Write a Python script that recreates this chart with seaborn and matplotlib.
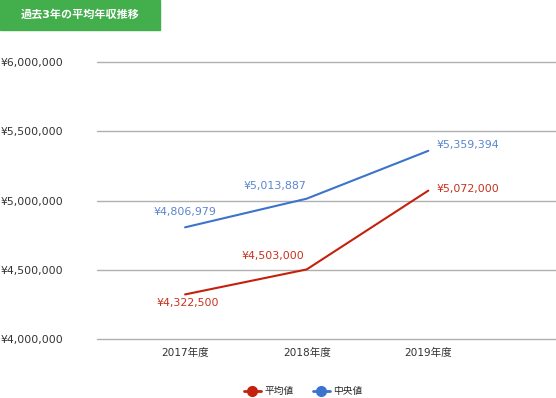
import pandas as pd
import matplotlib
matplotlib.use("Agg")
import matplotlib.pyplot as plt
import seaborn as sns
from matplotlib.patches import Rectangle
from matplotlib.ticker import FuncFormatter

years = ["2017年度", "2018年度", "2019年度"]
mean_vals = [4322500, 4503000, 5072000]
median_vals = [4806979, 5013887, 5359394]
series = ["平均値", "中央値"]
colors = {"平均値": "#c4200c", "中央値": "#3c73cc"}
label_colors = {"平均値": "#c8321e", "中央値": "#5b86cf"}
title = "過去3年の平均年収推移"

df = pd.DataFrame({
    "year": years * 2,
    "x": [0, 1, 2] * 2,
    "value": mean_vals + median_vals,
    "series": [series[0]] * 3 + [series[1]] * 3,
})

sns.set_style("white")
plt.rcParams["font.family"] = ["DejaVu Sans", "Noto Sans CJK JP"]

fig = plt.figure(figsize=(5.56, 3.98), dpi=100)
ax = fig.add_axes([0.1745, 0.148, 0.8255, 0.696])

sns.lineplot(data=df, x="x", y="value", hue="series", hue_order=series,
             palette=colors, linewidth=1.5, ax=ax, legend=False)

ax.set_ylim(4000000, 6000000)
ax.set_xlim(-0.724, 3.05)
ax.set_yticks([4000000, 4500000, 5000000, 5500000, 6000000])
ax.yaxis.set_major_formatter(FuncFormatter(lambda v, p: "¥{:,.0f}".format(v)))
ax.set_xticks([0, 1, 2])
ax.set_xticklabels(years)
ax.tick_params(axis="y", length=0, pad=24, labelsize=7.8, colors="#333333")
ax.tick_params(axis="x", length=0, pad=6, labelsize=7.6, colors="#333333")
ax.set_xlabel("")
ax.set_ylabel("")
ax.grid(axis="y", color="#b0b0b0", linewidth=1)
ax.grid(axis="x", visible=False)
for gl in ax.get_ygridlines():
    gl.set_clip_on(False)
for s in ax.spines.values():
    s.set_visible(False)

# data labels
offsets = {
    "中央値": [(0, 11, "center"), (-23, 9, "center"), (6, 4, "left")],
    "平均値": [(2, -6, "center"), (-24, 10, "center"), (6, 1, "left")],
}
for name, vals in [("平均値", mean_vals), ("中央値", median_vals)]:
    for i, v in enumerate(vals):
        dx, dy, ha = offsets[name][i]
        ax.annotate("¥{:,}".format(v), (i, v), xytext=(dx, dy),
                    textcoords="offset points", ha=ha, va="center",
                    fontsize=7.9, color=label_colors[name])

# title box
fig.patches.append(Rectangle((0, 1 - 30 / 398), 160 / 556, 30 / 398,
                             transform=fig.transFigure, color="#43ae4c", zorder=0))
fig.text(80 / 556, 1 - 15 / 398, title, ha="center", va="center",
         color="white", fontsize=8, fontweight="bold")

# legend
handles = [plt.Line2D([], [], color=colors[s], marker="o", markersize=7,
                      linewidth=2) for s in series]
fig.legend(handles, series, loc="center", bbox_to_anchor=(0.545, 1 - 391 / 398),
           ncol=2, frameon=False, fontsize=7, handlelength=1.8,
           handletextpad=0.3, columnspacing=2.0)

fig.savefig("out.png", dpi=100)
